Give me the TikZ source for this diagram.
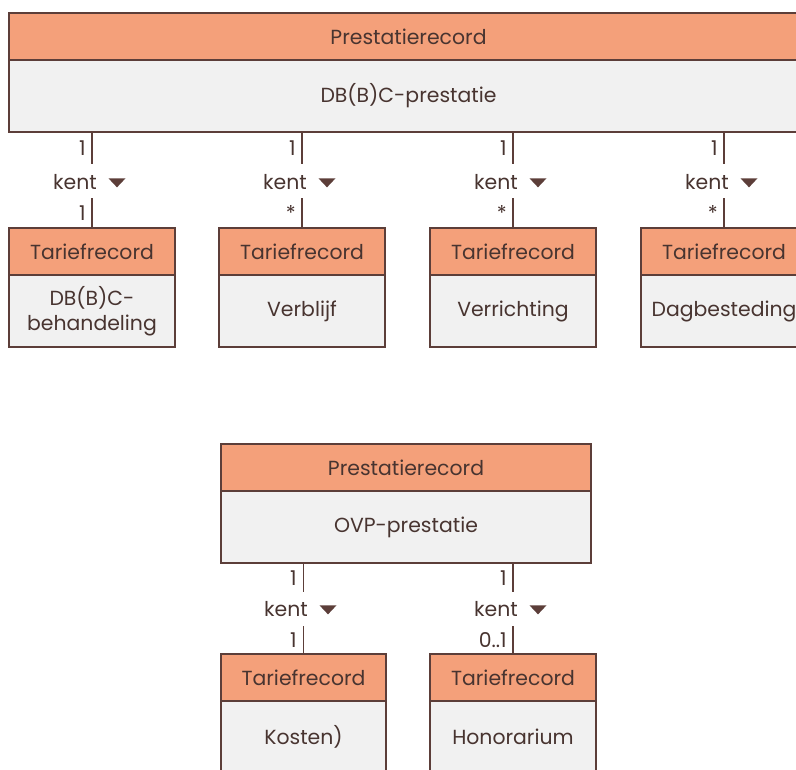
\documentclass[tikz,border=0pt]{standalone}
\usepackage{fontspec}
\setmainfont{Poppins}
\usetikzlibrary{shapes.geometric}

\newlength{\px}
\setlength{\px}{0.75pt}

\definecolor{hdrfill}{RGB}{244,160,122}
\definecolor{bodyfill}{RGB}{241,241,241}
\definecolor{linec}{RGB}{92,62,57}
\definecolor{txtc}{RGB}{72,52,48}

\tikzset{
	hdr/.style={draw=linec, line width=0.9pt, fill=hdrfill, text=txtc, inner sep=0pt, outer sep=0pt, minimum height=47\px},
	body/.style={draw=linec, line width=0.9pt, fill=bodyfill, text=txtc, inner sep=0pt, outer sep=0pt, minimum height=72\px, align=center},
	gap/.style={inner sep=0pt, outer sep=0pt, minimum width=0pt, minimum height=34\px},
	conn/.style={draw=linec, line width=1.4pt},
	lbl/.style={text=txtc, inner sep=0pt},
	tri/.style={isosceles triangle, shape border rotate=-90, isosceles triangle stretches, fill=linec, inner sep=0pt, minimum width=17\px, minimum height=9\px},
}

\begin{document}
\begin{tikzpicture}[x=0.75pt,y=0.75pt,yscale=-1,xscale=1,font=\fontsize{15.3}{18.5}\selectfont]
		\useasboundingbox (0,0) rectangle (796,769);
		\clip (0,0) rectangle (796,769);
		
		% DB(B)C-prestatie
		\node [hdr, minimum width=799\px, anchor=north west] (pr) at (9,13) {Prestatierecord};
		\node [body, minimum width=799\px, anchor=north] (prb) at (pr.south) {DB(B)C-prestatie};
		
		\node [hdr, minimum width=166\px, anchor=north west] (c1) at (9,228) {Tariefrecord};
		\node [body, minimum width=166\px, anchor=north] (c1b) at (c1.south) {DB(B)C-\\behandeling};
		\node [hdr, minimum width=166\px, anchor=north west] (c2) at (219,228) {Tariefrecord};
		\node [body, minimum width=166\px, anchor=north] (c2b) at (c2.south) {Verblijf};
		\node [hdr, minimum width=166\px, anchor=north west] (c3) at (430,228) {Tariefrecord};
		\node [body, minimum width=166\px, anchor=north] (c3b) at (c3.south) {Verrichting};
		\node [hdr, minimum width=166\px, anchor=north west] (c4) at (641,228) {Tariefrecord};
		\node [body, minimum width=166\px, anchor=north] (c4b) at (c4.south) {Dagbesteding};
		
		\node [gap] (g1) at (92,181) {};
		\node [gap] (g2) at (302,181) {};
		\node [gap] (g3) at (513,181) {};
		\node [gap] (g4) at (724,181) {};
		\draw [conn] (g1.north |- prb.south) -- (g1.north);
		\draw [conn] (g1.south) -- (g1.south |- c1.north);
		\draw [conn] (g2.north |- prb.south) -- (g2.north);
		\draw [conn] (g2.south) -- (g2.south |- c2.north);
		\draw [conn] (g3.north |- prb.south) -- (g3.north);
		\draw [conn] (g3.south) -- (g3.south |- c3.north);
		\draw [conn] (g4.north |- prb.south) -- (g4.north);
		\draw [conn] (g4.south) -- (g4.south |- c4.north);
		
		\node [lbl] (k1) at (75,182) {kent};
		\node [tri] (t1) at (117,182) {};
		\node [lbl] (k2) at (285,182) {kent};
		\node [tri] (t2) at (327,182) {};
		\node [lbl] (k3) at (496,182) {kent};
		\node [tri] (t3) at (538,182) {};
		\node [lbl] (k4) at (707,182) {kent};
		\node [tri] (t4) at (749,182) {};
		
		\node [lbl, anchor=east] (m1a) at (86,148) {1};
		\node [lbl, anchor=east] (m1b) at (86,213) {1};
		\node [lbl, anchor=east] (m2a) at (296,148) {1};
		\node [lbl, anchor=east] (m2b) at (296,213) {*};
		\node [lbl, anchor=east] (m3a) at (507,148) {1};
		\node [lbl, anchor=east] (m3b) at (507,213) {*};
		\node [lbl, anchor=east] (m4a) at (718,148) {1};
		\node [lbl, anchor=east] (m4b) at (718,213) {*};
		
		% OVP-prestatie
		\node [hdr, minimum width=370\px, anchor=north west] (po) at (221,444) {Prestatierecord};
		\node [body, minimum width=370\px, anchor=north] (pob) at (po.south) {OVP-prestatie};
		
		\node [hdr, minimum width=165\px, anchor=north west] (c5) at (221,654) {Tariefrecord};
		\node [body, minimum width=165\px, anchor=north] (c5b) at (c5.south) {Kosten)};
		\node [hdr, minimum width=166\px, anchor=north west] (c6) at (430,654) {Tariefrecord};
		\node [body, minimum width=166\px, anchor=north] (c6b) at (c6.south) {Honorarium};
		
		\node [gap] (g5) at (303.5,609) {};
		\node [gap] (g6) at (513,609) {};
		\draw [conn] (g5.north |- pob.south) -- (g5.north);
		\draw [conn] (g5.south) -- (g5.south |- c5.north);
		\draw [conn] (g6.north |- pob.south) -- (g6.north);
		\draw [conn] (g6.south) -- (g6.south |- c6.north);
		
		\node [lbl] (k5) at (286,609) {kent};
		\node [tri] (t5) at (328,609) {};
		\node [lbl] (k6) at (496,609) {kent};
		\node [tri] (t6) at (538,609) {};
		
		\node [lbl, anchor=east] (m5a) at (297,578) {1};
		\node [lbl, anchor=east] (m5b) at (297,640) {1};
		\node [lbl, anchor=east] (m6a) at (507,578) {1};
		\node [lbl, anchor=east] (m6b) at (507,640) {0..1};
		
\end{tikzpicture}
\end{document}
